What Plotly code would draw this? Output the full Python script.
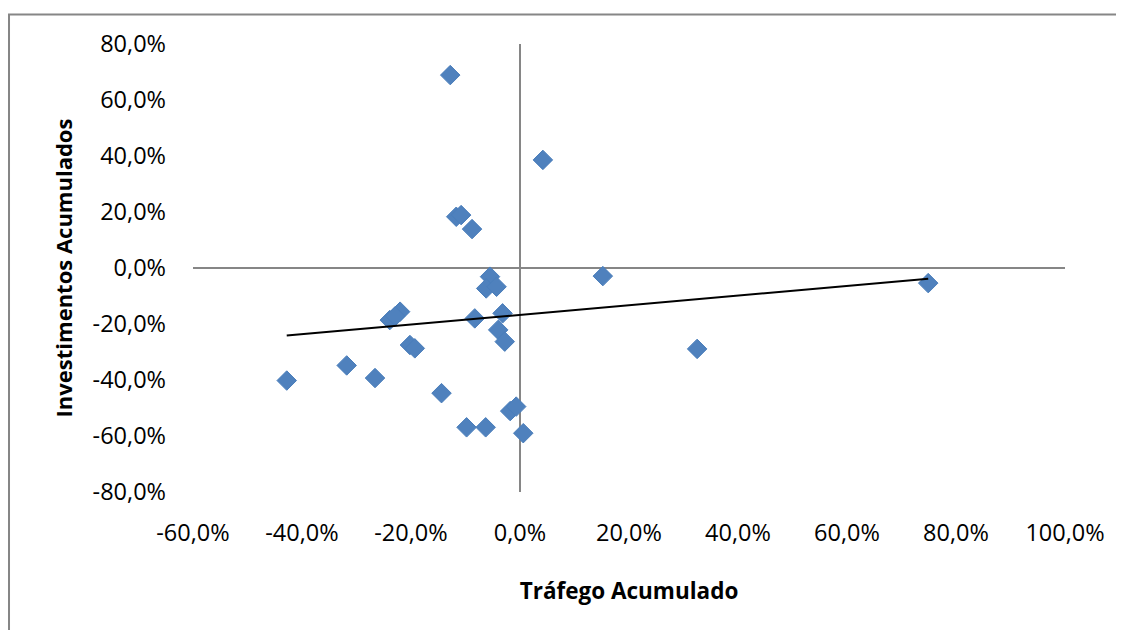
import numpy as np
import plotly.graph_objects as go

# Tráfego acumulado (x) e investimentos acumulados (y), em fração
trafego = [-0.128, 0.042, 0.152, 0.749, 0.325, -0.428, -0.318, -0.266, -0.144,
           -0.117, -0.108, -0.088, -0.055, -0.062, -0.043, -0.220, -0.239, -0.229,
           -0.083, -0.032, -0.040, -0.028, -0.202, -0.193, -0.018, -0.007, -0.098,
           -0.063, 0.006]
investimentos = [0.689, 0.386, -0.029, -0.054, -0.289, -0.402, -0.348, -0.393, -0.447,
                 0.183, 0.189, 0.139, -0.031, -0.073, -0.067, -0.156, -0.186, -0.172,
                 -0.180, -0.162, -0.221, -0.263, -0.275, -0.287, -0.511, -0.495, -0.569,
                 -0.569, -0.590]

x_ticks = [-0.6, -0.4, -0.2, 0.0, 0.2, 0.4, 0.6, 0.8, 1.0]
x_labels = ["-60,0%", "-40,0%", "-20,0%", "0,0%", "20,0%", "40,0%", "60,0%",
            "80,0%", "100,0%"]
y_ticks = [-0.8, -0.6, -0.4, -0.2, 0.0, 0.2, 0.4, 0.6, 0.8]
y_labels = ["-80,0%", "-60,0%", "-40,0%", "-20,0%", "0,0%", "20,0%", "40,0%",
            "60,0%", "80,0%"]

FONT = "Open Sans, Calibri, sans-serif"
GRAY = "#868686"

x = np.array(trafego)
y = np.array(investimentos)
slope, icpt = np.polyfit(x, y, 1)
xt = np.array([x.min(), x.max()])

fig = go.Figure()
fig.add_trace(go.Scatter(
    x=trafego, y=investimentos, mode="markers",
    marker=dict(symbol="diamond", size=15, color="#4F81BD",
                line=dict(width=1, color="#4A7EBB")),
    showlegend=False,
))
fig.add_trace(go.Scatter(
    x=xt, y=slope * xt + icpt, mode="lines",
    line=dict(color="#000000", width=2), showlegend=False,
))

# moldura do gráfico (só aparecem as bordas esquerda e superior)
fig.add_shape(type="rect", xref="paper", yref="paper",
              x0=-0.2110, x1=1.3, y0=-0.6, y1=1.0658,
              line=dict(color=GRAY, width=2), layer="below")

fig.update_xaxes(
    range=[-0.6, 1.0], tickvals=x_ticks, ticktext=x_labels,
    showgrid=False, showline=False, ticks="",
    zeroline=True, zerolinecolor=GRAY, zerolinewidth=2,
    ticklabelstandoff=24, tickfont=dict(size=23.5),
    title=dict(text="<b>Tráfego Acumulado</b>", font=dict(size=22.5), standoff=36),
)
fig.update_yaxes(
    range=[-0.8, 0.8], tickvals=y_ticks, ticktext=y_labels,
    showgrid=False, showline=False, ticks="",
    zeroline=True, zerolinecolor=GRAY, zerolinewidth=2,
    ticklabelstandoff=26, tickfont=dict(size=23.5),
    title=dict(text="<b>Investimentos Acumulados</b>", font=dict(size=22), standoff=13),
)
fig.update_layout(
    width=1124, height=630,
    margin=dict(l=185, r=67, t=36, b=146),
    paper_bgcolor="#ffffff", plot_bgcolor="#ffffff",
    font=dict(family=FONT, size=22, color="#000000"),
)
fig.write_html("out.html")
